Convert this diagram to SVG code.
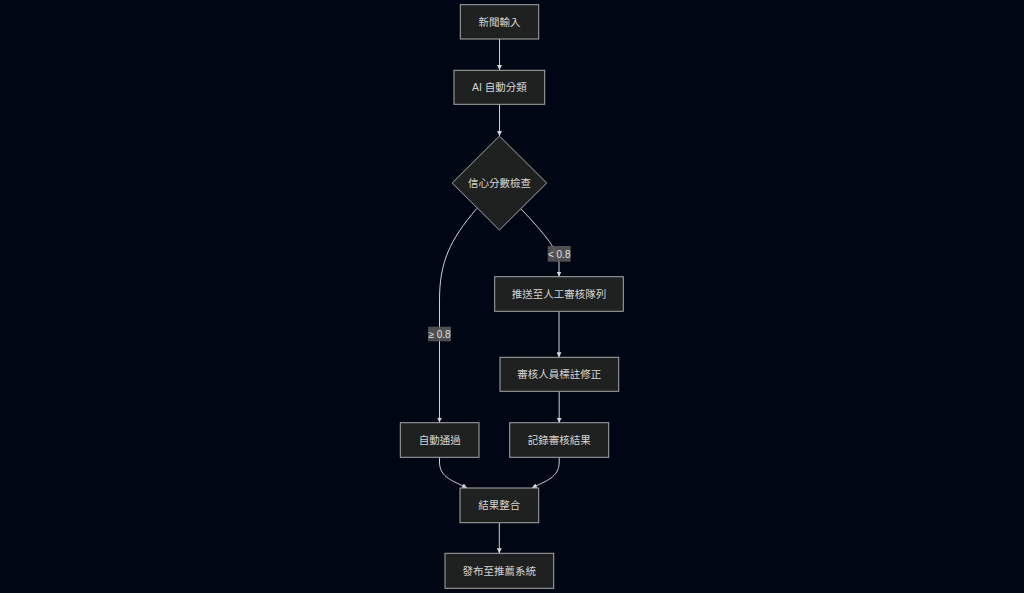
<svg xmlns="http://www.w3.org/2000/svg" width="1024" height="593" viewBox="0 0 1024 593">
<defs>
<style>
.node rect,.node polygon{fill:#1f2020;stroke:#a8a8a8;stroke-width:1}
.node text{fill:#d4d4d4;font-family:"Liberation Sans","Noto Sans CJK TC",sans-serif;font-size:10.5px;text-anchor:middle;dominant-baseline:central}
.edge{fill:none;stroke:#d0d0d0;stroke-width:1}
.lbl rect{fill:#585858;opacity:0.9}
.lbl text{fill:#e0e0e0;font-family:"Liberation Sans","Noto Sans CJK TC",sans-serif;font-size:10px;text-anchor:middle;dominant-baseline:central}
</style>
<marker id="arr" viewBox="0 0 10 10" refX="10" refY="5" markerWidth="5" markerHeight="5" markerUnits="userSpaceOnUse" orient="auto"><path d="M0,0 L10,5 L0,10 z" fill="#d8d8d8"/></marker>
</defs>
<rect width="1024" height="593" fill="#000614"/>
<g id="connectors">
<path class="edge" d="M499.5,39 L499.5,70" marker-end="url(#arr)"/>
<path class="edge" d="M499.5,104.3 L499.5,136" marker-end="url(#arr)"/>
<path class="edge" d="M520.5,208.5 Q559,248 559,262 L559,276.5" marker-end="url(#arr)"/>
<path class="edge" d="M476.7,208.5 C450,240 439.5,262 439.5,300 L439.5,422.5" marker-end="url(#arr)"/>
<path class="edge" d="M559,311.3 L559,357.3" marker-end="url(#arr)"/>
<path class="edge" d="M559.2,391.3 L559.2,422.7" marker-end="url(#arr)"/>
<path class="edge" d="M439.5,457.3 L439.5,462 C439.5,478 454,481 467,488" marker-end="url(#arr)"/>
<path class="edge" d="M559.2,457.3 L559.2,462 C559.2,478 545,481 532,488" marker-end="url(#arr)"/>
<path class="edge" d="M499.3,522.7 L499.3,553.3" marker-end="url(#arr)"/>
<g class="lbl"><rect x="547.7" y="246" width="23" height="15.7"/><text x="559.2" y="254">&lt; 0.8</text></g>
<g class="lbl"><rect x="428" y="326.7" width="23" height="14.6"/><text x="439.5" y="334">≥ 0.8</text></g>
</g>
<g id="n1" class="node"><rect x="460.3" y="4.7" width="78.4" height="34.3"/><text x="499.5" y="22">新聞輸入</text></g>
<g id="n2" class="node"><rect x="454" y="70.3" width="90.7" height="34"/><text x="499.3" y="87.3">AI 自動分類</text></g>
<g id="n3" class="node"><polygon points="499.4,136 546.7,183 499.4,230 452.2,183"/><text x="499.4" y="183">信心分數檢查</text></g>
<g id="n4" class="node"><rect x="494.7" y="276.7" width="128.6" height="34.6"/><text x="559" y="294">推送至人工審核隊列</text></g>
<g id="n5" class="node"><rect x="500" y="357.3" width="118.7" height="34"/><text x="559.3" y="374.3">審核人員標註修正</text></g>
<g id="n6" class="node"><rect x="400.3" y="422.7" width="78.7" height="34.6"/><text x="439.7" y="440">自動通過</text></g>
<g id="n7" class="node"><rect x="509.7" y="422.7" width="99" height="34.6"/><text x="559.2" y="440">記錄審核結果</text></g>
<g id="n8" class="node"><rect x="460" y="488" width="78.7" height="34.7"/><text x="499.3" y="505.3">結果整合</text></g>
<g id="n9" class="node"><rect x="445" y="553.3" width="108.7" height="35"/><text x="499.3" y="570.8">發布至推薦系統</text></g>
</svg>
